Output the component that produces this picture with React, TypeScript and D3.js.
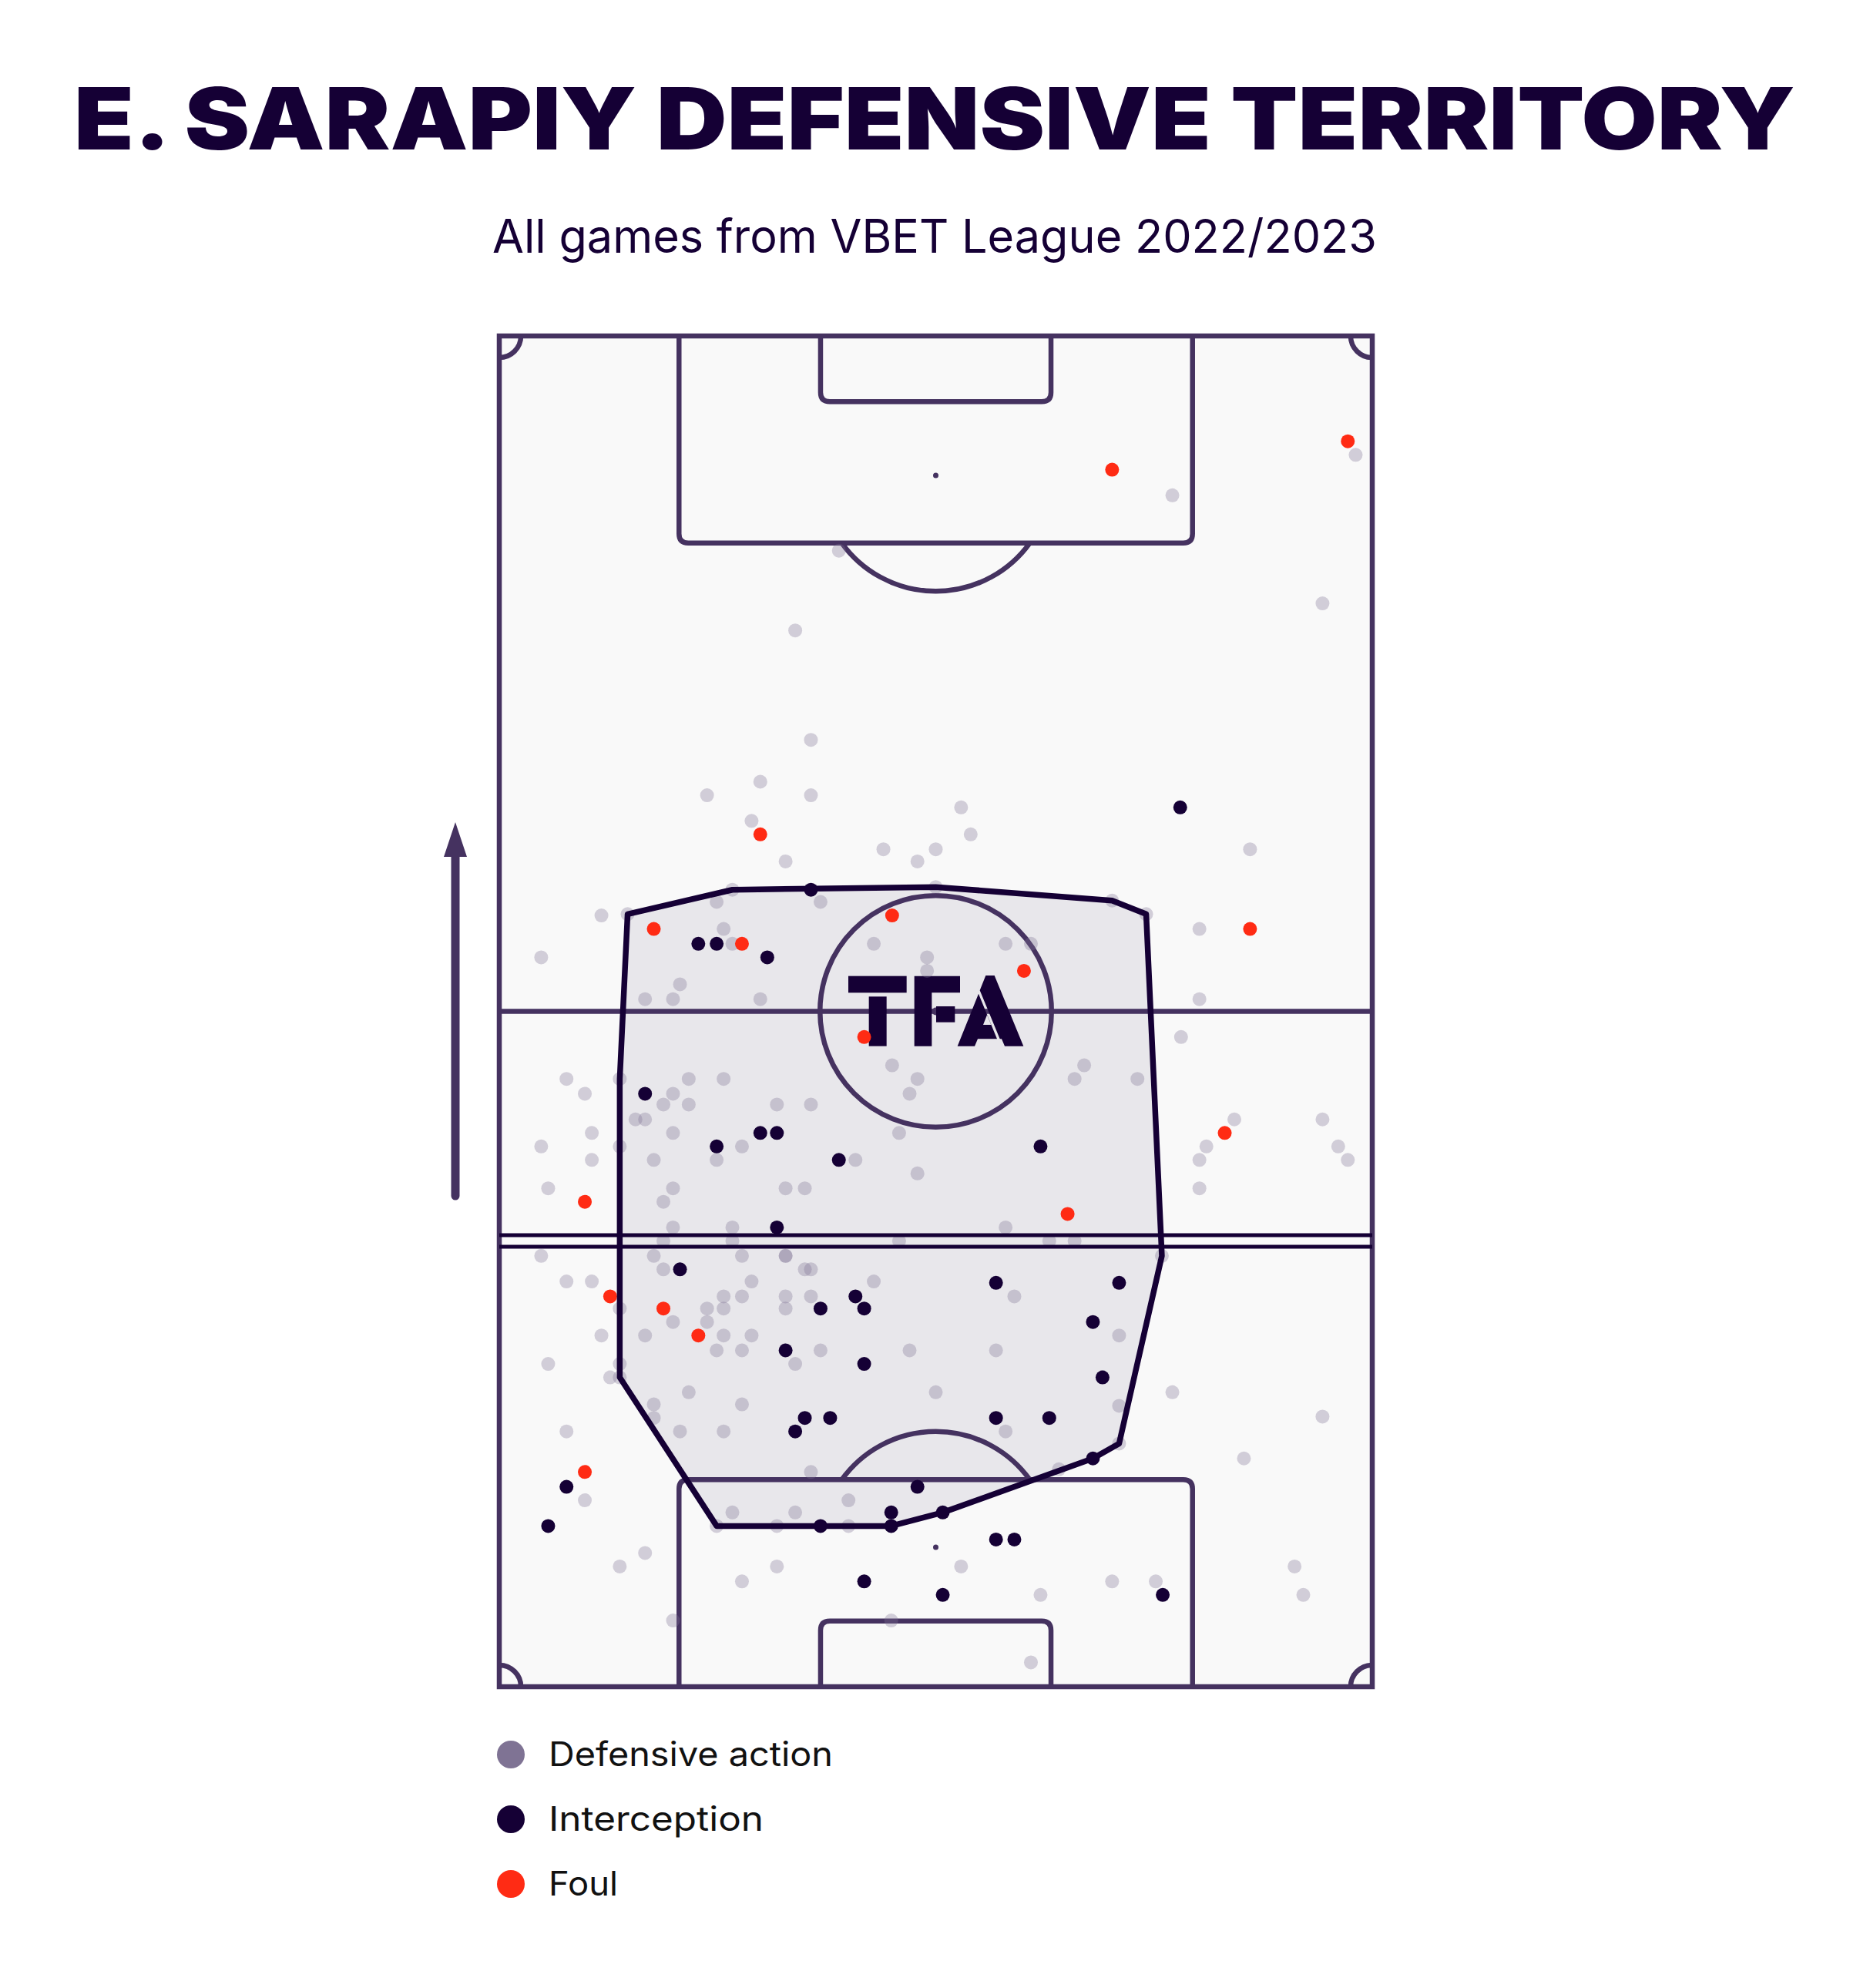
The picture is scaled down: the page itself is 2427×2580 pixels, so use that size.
import React from 'react';
import * as d3 from 'd3';

// ---------- DATA (pitch %: x 0 = left touchline → 100 right; y 0 = own goal line → 100 opponent goal line)
const defensiveActions: [number, number][] = [
  [98.1,91.2],[77.1,88.2],[38.9,84.1],[94.3,80.2],[33.9,78.2],[35.7,70.1],[29.9,67.0],[23.8,66.0],[35.7,66.0],[52.9,65.1],
  [28.9,64.1],[54.0,63.1],[44.0,62.0],[50.0,62.0],[86.0,62.0],[32.8,61.1],[47.9,61.1],[26.7,59.0],[50.0,59.2],[24.9,58.1],
  [36.8,58.1],[70.2,58.2],[11.7,57.1],[14.7,57.2],[74.1,57.2],[25.7,56.1],[80.2,56.1],[26.7,55.0],[42.9,55.0],[58.0,55.0],
  [60.9,55.0],[4.8,54.0],[49.0,54.0],[49.0,53.0],[20.7,52.0],[16.7,50.9],[19.9,50.9],[29.9,50.9],[80.2,50.9],[78.1,48.1],
  [45.0,46.0],[67.0,46.0],[7.7,45.0],[13.8,45.0],[21.7,45.0],[25.7,45.0],[47.9,45.0],[65.9,45.0],[73.1,45.0],[9.8,43.9],
  [19.9,43.9],[47.0,43.9],[18.8,43.1],[21.7,43.1],[31.8,43.1],[35.7,43.1],[15.6,42.0],[16.7,42.0],[84.2,42.0],[94.3,42.0],
  [10.6,41.0],[19.9,41.0],[45.8,41.0],[4.8,40.0],[13.8,40.0],[27.8,40.0],[81.0,40.0],[96.1,40.0],[10.6,39.0],[17.7,39.0],
  [24.9,39.0],[40.8,39.0],[80.2,39.0],[97.2,39.0],[47.9,38.0],[5.6,36.9],[19.9,36.9],[32.8,36.9],[35.0,36.9],[80.2,36.9],
  [18.8,35.9],[19.9,34.0],[26.7,34.0],[58.0,34.0],[18.8,33.0],[26.7,33.0],[45.8,33.0],[63.0,33.0],[65.9,33.0],[4.8,31.9],
  [17.7,31.9],[27.8,31.9],[32.8,31.9],[32.8,31.9],[75.9,31.9],[18.8,30.9],[35.0,30.9],[35.7,30.9],[7.7,30.0],[10.6,30.0],
  [28.9,30.0],[42.9,30.0],[25.7,28.9],[27.8,28.9],[32.8,28.9],[35.7,28.9],[59.0,28.9],[13.8,28.0],[23.8,28.0],[25.7,28.0],
  [32.8,28.0],[19.9,27.0],[23.8,27.0],[11.7,26.0],[16.7,26.0],[25.7,26.0],[28.9,26.0],[71.0,26.0],[24.9,24.9],[27.8,24.9],
  [36.8,24.9],[47.0,24.9],[56.9,24.9],[5.6,23.9],[13.8,23.9],[33.9,23.9],[12.7,22.9],[13.8,22.9],[21.7,21.8],[50.0,21.8],
  [77.1,21.8],[17.7,20.9],[27.8,20.9],[71.0,20.8],[17.7,19.9],[94.3,20.0],[7.7,18.9],[20.7,18.9],[25.7,18.9],[58.0,18.9],
  [71.0,18.0],[85.3,16.9],[64.1,16.1],[35.7,15.9],[9.8,13.8],[40.0,13.8],[26.7,12.9],[33.9,12.9],[24.9,11.9],[31.8,11.9],
  [40.0,11.9],[16.7,9.9],[13.8,8.9],[31.8,8.9],[52.9,8.9],[91.1,8.9],[27.8,7.8],[70.2,7.8],[75.2,7.8],[62.0,6.8],
  [92.1,6.8],[19.9,4.9],[44.9,4.9],[60.9,1.8]
];

const interceptions: [number, number][] = [
  [78.0,65.1],[35.7,59.0],[22.8,55.0],[24.9,55.0],[30.7,54.0],[16.7,43.9],[29.9,41.0],[31.8,41.0],[24.9,40.0],[38.9,39.0],
  [62.0,40.0],[31.8,34.0],[20.7,30.9],[40.8,28.9],[36.8,28.0],[41.8,28.0],[56.9,29.9],[71.0,29.9],[32.8,24.9],[41.8,23.9],
  [68.0,27.0],[69.1,22.9],[35.0,19.9],[37.9,19.9],[33.9,18.9],[56.9,19.9],[63.0,19.9],[68.0,16.9],[7.7,14.8],[47.9,14.8],
  [50.8,12.9],[44.9,12.9],[5.6,11.9],[36.8,11.9],[44.9,11.9],[56.9,10.9],[59.0,10.9],[41.8,7.8],[50.8,6.8],[76.0,6.8]
];

const fouls: [number, number][] = [
  [97.2,92.2],[70.2,90.1],[29.9,63.1],[17.7,56.1],[27.8,55.0],[45.0,57.1],[86.0,56.1],[60.1,53.0],
  [41.8,48.1],[83.1,41.0],[9.8,35.9],[65.1,35.0],[12.7,28.9],[18.8,28.0],[22.8,26.0],[9.8,15.9]
];

// territory polygon (hull vertices, pitch %)
const territoryHull: [number, number][] = [
  [14.7,57.2],[26.7,59.0],[50.0,59.2],[70.2,58.2],[74.1,57.2],[75.9,31.9],[71.0,18.0],
  [68.0,16.9],[50.8,12.9],[44.9,11.9],[24.9,11.9],[13.8,22.9],[13.8,45.0]
];

// average defensive line height (pitch %)
const defensiveLineY = 33.0;

const legendLabels = ['Defensive action', 'Interception', 'Foul'];
const titleText = 'E. SARAPIY DEFENSIVE TERRITORY';
const subtitleText = 'All games from VBET League 2022/2023';

// ---------- STYLE
const C_DARK = '#150035';
const C_LINE = '#453260';
const C_GREY = '#7f7394';
const C_FOUL = '#ff2b14';
const C_PITCH = '#f9f9f9';

const W = 2427, H = 2580;
const P = { x0: 648, x1: 1781, y0: 436, y1: 2189 };

export default function App() {
  const xS = d3.scaleLinear().domain([0, 100]).range([P.x0, P.x1]);
  const yS = d3.scaleLinear().domain([0, 100]).range([P.y1, P.y0]);
  // metric scales for pitch markings (68 x 105 m), y measured from top goal line
  const mx = d3.scaleLinear().domain([0, 68]).range([P.x0, P.x1]);
  const my = d3.scaleLinear().domain([0, 105]).range([P.y0, P.y1]);

  const cx = mx(34);
  const cy = my(52.5);
  const rCircle = my(9) - my(0);
  const rCorner = my(1.68) - my(0);
  const rc = 12; // box corner rounding

  const boxPath = (halfW: number, depth: number, top: boolean) => {
    const xa = mx(34 - halfW), xb = mx(34 + halfW);
    const yg = top ? P.y0 : P.y1;
    const yd = top ? my(depth) : my(105 - depth);
    const s = top ? 1 : -1;
    return `M${xa},${yg} L${xa},${yd - s * rc} Q${xa},${yd} ${xa + rc},${yd} L${xb - rc},${yd} Q${xb},${yd} ${xb},${yd - s * rc} L${xb},${yg}`;
  };

  const dPath = (top: boolean) => {
    const spotY = top ? my(10.84) : my(105 - 10.84);
    const boxY = top ? my(16.1) : my(105 - 16.1);
    const dy = Math.abs(boxY - spotY);
    const dx = Math.sqrt(rCircle * rCircle - dy * dy);
    return `M${cx - dx},${boxY} A${rCircle},${rCircle} 0 0 ${top ? 0 : 1} ${cx + dx},${boxY}`;
  };

  const corners = [
    `M${P.x0 + rCorner},${P.y0} A${rCorner},${rCorner} 0 0 1 ${P.x0},${P.y0 + rCorner}`,
    `M${P.x1 - rCorner},${P.y0} A${rCorner},${rCorner} 0 0 0 ${P.x1},${P.y0 + rCorner}`,
    `M${P.x0},${P.y1 - rCorner} A${rCorner},${rCorner} 0 0 1 ${P.x0 + rCorner},${P.y1}`,
    `M${P.x1 - rCorner},${P.y1} A${rCorner},${rCorner} 0 0 1 ${P.x1},${P.y1 - rCorner}`,
  ];

  const hullLine = d3.line<[number, number]>().x(d => xS(d[0])).y(d => yS(d[1])).curve(d3.curveLinearClosed);
  const hullD = hullLine(territoryHull) || '';

  const dotR = 9;
  const lineY = yS(defensiveLineY);

  const legendY = [2277, 2361, 2445];
  const legendColors = [C_GREY, C_DARK, C_FOUL];
  const legendWidths = [369, 279, 90];

  return (
    <svg width={W} height={H} style={{ position: 'absolute', left: 0, top: 0, background: '#fff' }}
      fontFamily="Inter, Lato, 'Noto Sans', sans-serif">
      <rect x={0} y={0} width={W} height={H} fill="#ffffff" />

      <text x={1213} y={194} textAnchor="middle" fontSize={111} fontWeight={900} fill={C_DARK}
        textLength={2234} lengthAdjust="spacingAndGlyphs">{titleText}</text>
      <text x={1213} y={328} textAnchor="middle" fontSize={60} fontWeight={400} fill={C_DARK}
        textLength={1148} lengthAdjust="spacingAndGlyphs">{subtitleText}</text>

      {/* pitch */}
      <rect x={P.x0} y={P.y0} width={P.x1 - P.x0} height={P.y1 - P.y0} fill={C_PITCH} />
      <path d={hullD} fill={C_DARK} fillOpacity={0.07} stroke="none" />

      <g fill="none" stroke={C_LINE} strokeWidth={6.5}>
        <rect x={P.x0} y={P.y0} width={P.x1 - P.x0} height={P.y1 - P.y0} />
        <line x1={P.x0} x2={P.x1} y1={cy} y2={cy} />
        <circle cx={cx} cy={cy} r={rCircle} />
        <path d={boxPath(20, 16.1, true)} />
        <path d={boxPath(8.975, 5.1, true)} />
        <path d={boxPath(20, 16.1, false)} />
        <path d={boxPath(8.975, 5.1, false)} />
        <path d={dPath(true)} />
        <path d={dPath(false)} />
        {corners.map((c, i) => <path key={i} d={c} />)}
      </g>
      <circle cx={cx} cy={cy} r={5} fill={C_LINE} />
      <circle cx={cx} cy={my(10.84)} r={3.5} fill={C_LINE} />
      <circle cx={cx} cy={my(105 - 10.84)} r={3.5} fill={C_LINE} />

      {/* TFA logo */}
      <g transform={`translate(${cx - 403.5 / 3},${cy - 247.5 / 3}) scale(${1 / 3})`} fill={C_DARK}>
        <rect x={63} y={110} width={227} height={65} />
        <rect x={143} y={190} width={69} height={193} />
        <path d="M320,110 H498 V175 H388 V383 H320 Z" />
        <rect x={405} y={228} width={73} height={62} />
        <path d="M598,108 L632,108 L745,383 L672,383 L660,355 L653,355 L575,166 Z" />
        <path fillRule="evenodd" d="M570,179 L642,355 L567,355 L555,383 L488,383 Z M603,262 L588,300 L619,300 Z" />
      </g>

      {/* dots */}
      <g>
        {defensiveActions.map((d, i) => (
          <circle key={'g' + i} cx={xS(d[0])} cy={yS(d[1])} r={dotR} fill={C_GREY} fillOpacity={0.33} />
        ))}
        {interceptions.map((d, i) => (
          <circle key={'i' + i} cx={xS(d[0])} cy={yS(d[1])} r={dotR} fill={C_DARK} />
        ))}
        {fouls.map((d, i) => (
          <circle key={'f' + i} cx={xS(d[0])} cy={yS(d[1])} r={dotR} fill={C_FOUL} />
        ))}
      </g>

      {/* territory outline */}
      <path d={hullD} fill="none" stroke={C_DARK} strokeWidth={7.5} strokeLinejoin="round" />

      {/* average defensive line */}
      <line x1={P.x0} x2={P.x1} y1={lineY - 7.5} y2={lineY - 7.5} stroke={C_DARK} strokeWidth={5} />
      <line x1={P.x0} x2={P.x1} y1={lineY + 7.5} y2={lineY + 7.5} stroke={C_DARK} strokeWidth={5} />

      {/* direction arrow */}
      <line x1={591} x2={591} y1={1552} y2={1108} stroke={C_LINE} strokeWidth={11} strokeLinecap="round" />
      <path d="M576,1112 L606,1112 L591,1067 Z" fill={C_LINE} />

      {/* legend */}
      {legendLabels.map((lab, i) => (
        <g key={lab}>
          <circle cx={663} cy={legendY[i]} r={18} fill={legendColors[i]} />
          <text x={712} y={legendY[i] + 15} fontSize={44} fill="#111"
            textLength={legendWidths[i]} lengthAdjust="spacingAndGlyphs">{lab}</text>
        </g>
      ))}
    </svg>
  );
}
